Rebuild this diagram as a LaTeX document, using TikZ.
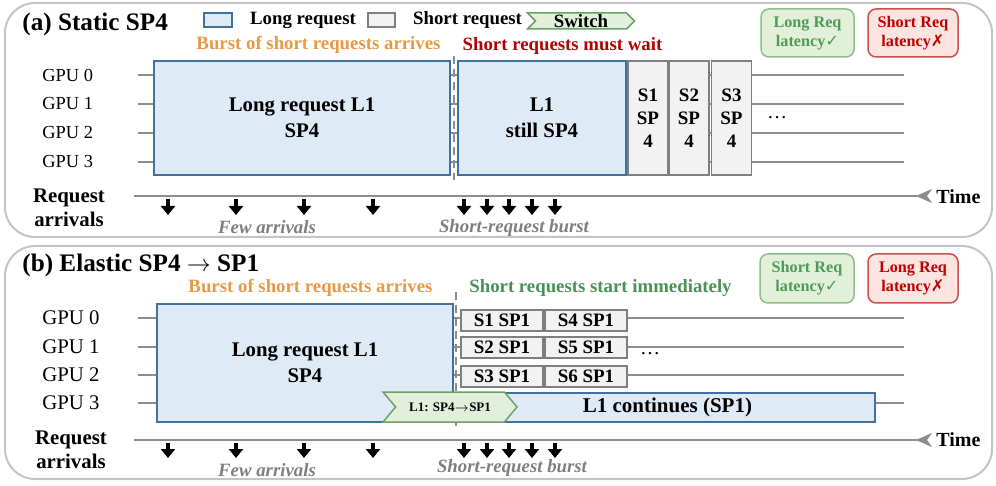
\documentclass[tikz,border=0pt]{standalone}
\usepackage{fontspec}
\setmainfont{Liberation Serif}
\newfontfamily\symfont{DejaVu Sans}
\usepackage{tikz}
\usetikzlibrary{positioning, arrows.meta, shapes.symbols}

\definecolor{longfill}{HTML}{DEEBF7}
\definecolor{longdraw}{HTML}{41719C}
\definecolor{shortfill}{HTML}{F2F2F2}
\definecolor{shortdraw}{HTML}{7F7F7F}
\definecolor{switchfill}{HTML}{E2EFDA}
\definecolor{switchdraw}{HTML}{6AA16A}
\definecolor{goodfill}{HTML}{E2F0D9}
\definecolor{goodline}{HTML}{8CBF88}
\definecolor{goodtext}{HTML}{4E9A58}
\definecolor{badfill}{HTML}{FCE4E0}
\definecolor{badline}{HTML}{C8504D}
\definecolor{badtext}{HTML}{C00000}
\definecolor{burstorange}{HTML}{E69A45}
\definecolor{waitred}{HTML}{B40000}
\definecolor{startgreen}{HTML}{4A9157}
\definecolor{notegray}{HTML}{7F7F7F}
\definecolor{lanegray}{HTML}{8C8C8C}
\definecolor{panelgray}{HTML}{C4C4C4}

\newcommand{\fsz}[2]{\fontsize{#1}{#2}\selectfont}

\begin{document}
\begin{tikzpicture}[
    x=0.5pt, y=-0.5pt,
    panel/.style={draw=panelgray, line width=1pt, rounded corners=15pt},
    lane/.style={draw=lanegray, line width=0.75pt},
    title/.style={anchor=west, inner sep=1pt, font=\fsz{12.6}{14}\bfseries},
    head/.style={inner sep=1pt, font=\fsz{9.4}{11}\bfseries},
    gpu/.style={anchor=west, inner sep=0pt},
    longbox/.style={draw=longdraw, fill=longfill, line width=0.75pt, inner sep=0pt, align=center, font=\fsz{10.4}{13}\bfseries},
    shortbox/.style={draw=shortdraw, fill=shortfill, line width=0.75pt, inner sep=0pt, align=center, font=\fsz{9.5}{11.5}\bfseries},
    switchsig/.style={shape=signal, signal to=east, signal from=west, draw=switchdraw, fill=switchfill, line width=0.75pt, inner sep=0pt},
    latbox/.style={rounded corners=4pt, line width=0.75pt, align=center, inner sep=0pt, font=\fsz{8.1}{9.5}\bfseries},
    goodlat/.style={latbox, draw=goodline, fill=goodfill, text=goodtext},
    badlat/.style={latbox, draw=badline, fill=badfill, text=badtext},
    arrival/.style={-{Triangle[length=4.5pt, width=7pt]}, line width=2.2pt},
    axis/.style={draw=lanegray, line width=1pt, -{Stealth[reversed, length=8pt, width=7pt, inset=2.5pt]}},
    cut/.style={draw=lanegray, line width=1pt, dash pattern=on 4pt off 2.5pt},
    note/.style={inner sep=1pt, text=notegray, font=\fsz{9.4}{11}\bfseries\itshape}
]
    \useasboundingbox (0,0) rectangle (996,486);

    % Panels
    \draw[panel] (5,3) rectangle (992,237);
    \draw[panel] (5,246) rectangle (992,479);

    % ---------------- (a) Static SP4 ----------------
    \node[title] (titleA) at (20,24) {(a) Static SP4};

    % Legend
    \node[longbox, minimum width=14pt, minimum height=7pt] (legL) at (218,20) {};
    \node[head, right=7.5pt of legL] (legLt) {Long request};
    \node[shortbox, minimum width=13.5pt, minimum height=7pt] (legS) at (381.5,20) {};
    \node[head, right=7.5pt of legS] (legSt) {Short request};
    \node[switchsig, minimum width=53.5pt, minimum height=8pt, font=\fsz{9.4}{11}\bfseries] (legW) at (581,21) {Switch};

    % Phase labels
    \node[head, text=burstorange] (burstLabA) at (318.5,45) {Burst of short requests arrives};
    \node[head, text=waitred] (waitLab) at (562.5,46) {Short requests must wait};

    % Latency verdicts
    \node[goodlat, minimum width=46.5pt, minimum height=24pt] (latA1) at (807.5,33) {Long Req\\latency{\symfont ✓}};
    \node[badlat, minimum width=45pt, minimum height=24pt] (latA2) at (913,33) {Short Req\\latency{\symfont ✗}};

    % GPU lanes
    \foreach \i/\y in {0/75, 1/104, 2/133, 3/162} {
        \node[gpu, font=\fsz{9.2}{11}] (gpuA\i) at (42,\y) {GPU \i};
        \coordinate (laneAs\i) at (138,\y);
        \coordinate (laneAe\i) at (904,\y);
        \draw[lane] (laneAs\i) -- (laneAe\i);
    }

    % Long request, then queued short ones
    \node[longbox, minimum width=148pt, minimum height=57pt] (longA) at (302,118) {Long request L1\\SP4};
    \coordinate (cutAt) at (454,56);
    \coordinate (cutAb) at (454,180);
    \draw[cut] (cutAt) -- (cutAb);
    \node[longbox, minimum width=84pt, minimum height=57pt] (stillA) at (542,118) {L1\\still SP4};
    \foreach \k/\x in {1/648, 2/689, 3/731.5}
        \node[shortbox, minimum width=20pt, minimum height=57pt] (sA\k) at (\x,118) {S\k\\SP\\4};
    \node[inner sep=0pt] (dotsA) at (777,118) {\dots};

    % Arrivals
    \node[head, align=center, font=\fsz{10.4}{12}\bfseries] (reqA) at (69,208) {Request\\arrivals};
    \coordinate (axAs) at (134,196);
    \coordinate (axAe) at (932,196);
    \draw[axis] (axAs) -- (axAe);
    \node[head, anchor=west, font=\fsz{10}{12}\bfseries] (timeA) at (934,197) {Time};
    \foreach \x in {168,236,304,373,464,487,509,532,555} {
        \coordinate (arrAt\x) at (\x,199);
        \coordinate (arrAb\x) at (\x,215);
        \draw[arrival] (arrAt\x) -- (arrAb\x);
    }
    \node[note] (fewA) at (267,227) {Few arrivals};
    \node[note] (burstA) at (514,228) {Short-request burst};

    % ---------------- (b) Elastic SP4 -> SP1 ----------------
    \node[title] (titleB) at (20,265) {(b) Elastic SP4 $\rightarrow$ SP1};

    % Phase labels
    \node[head, text=burstorange] (burstLabB) at (310.5,288) {Burst of short requests arrives};
    \node[head, text=startgreen] (startLab) at (600.5,288) {Short requests start immediately};

    % Latency verdicts
    \node[goodlat, minimum width=47pt, minimum height=24.5pt] (latB1) at (807,278.5) {Short Req\\latency{\symfont ✓}};
    \node[badlat, minimum width=45pt, minimum height=24.5pt] (latB2) at (913,278.5) {Long Req\\latency{\symfont ✗}};

    % GPU lanes
    \foreach \i/\y in {0/318, 1/347, 2/375, 3/403} {
        \node[gpu, font=\fsz{10.4}{12}] (gpuB\i) at (42,\y) {GPU \i};
        \coordinate (laneBs\i) at (138,\y);
        \coordinate (laneBe\i) at (904,\y);
        \draw[lane] (laneBs\i) -- (laneBe\i);
    }

    % Long request, shrunk to one GPU after the switch
    \node[longbox, minimum width=148pt, minimum height=59pt] (longB) at (305,363) {Long request L1\\SP4};
    \coordinate (cutBt) at (456,292);
    \coordinate (cutBb) at (456,426);
    \draw[cut] (cutBt) -- (cutBb);
    \foreach \k/\m/\y in {1/4/320.5, 2/5/347.5, 3/6/376.5} {
        \node[shortbox, minimum width=41pt, minimum height=10.5pt] (sB\k) at (502,\y) {S\k{} SP1};
        \node[shortbox, minimum width=41pt, minimum height=10.5pt] (sB\m) at (586,\y) {S\m{} SP1};
    }
    \node[inner sep=0pt] (dotsB) at (650,354) {\dots};
    \node[longbox, minimum width=209.5pt, minimum height=14.5pt, font=\fsz{10.5}{12}\bfseries] (contB) at (665.5,407.5) {\hspace*{2pt}L1 continues (SP1)};
    \node[switchsig, signal pointer angle=100, minimum width=67pt, minimum height=15pt, font=\fsz{6.5}{8}\bfseries] (swB) at (450,407) {L1: SP4$\rightarrow$SP1};

    % Arrivals
    \node[head, align=center, font=\fsz{10.4}{12}\bfseries] (reqB) at (71,450) {Request\\arrivals};
    \coordinate (axBs) at (134,440);
    \coordinate (axBe) at (932,440);
    \draw[axis] (axBs) -- (axBe);
    \node[head, anchor=west, font=\fsz{10}{12}\bfseries] (timeB) at (934,440) {Time};
    \foreach \x in {168,236,304,373,464,487,509,532,555} {
        \coordinate (arrBt\x) at (\x,443);
        \coordinate (arrBb\x) at (\x,458);
        \draw[arrival] (arrBt\x) -- (arrBb\x);
    }
    \node[note] (fewB) at (267,470) {Few arrivals};
    \node[note] (burstB) at (512,468) {Short-request burst};

\end{tikzpicture}
\end{document}
